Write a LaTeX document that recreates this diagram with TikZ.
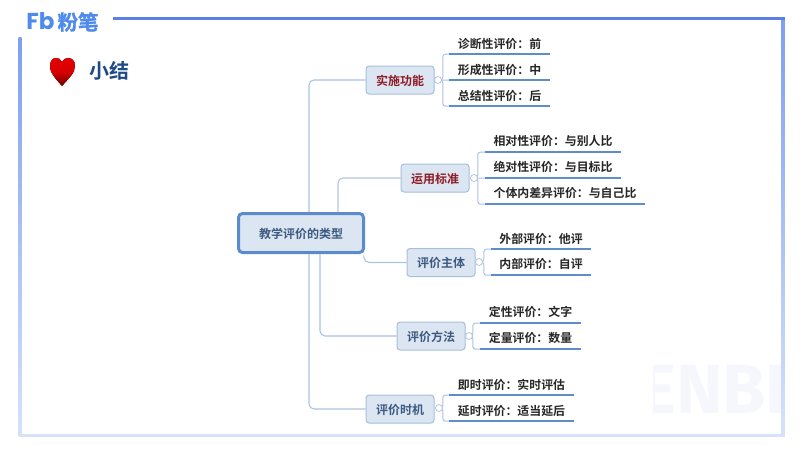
\documentclass[tikz,border=0pt]{standalone}
\usepackage{fontspec}
\setmainfont{Noto Sans CJK SC}[BoldFont={* Bold}]
\setsansfont{Fira Sans}
\newfontfamily\logofont{Poppins}[BoldFont={* Bold}]
\newfontfamily\cjkheavy{Noto Sans CJK SC Bold}[FakeBold=1.5]
\usetikzlibrary{shadings}
\definecolor{brlight}{HTML}{A9C3E0}
\definecolor{brgray}{HTML}{B5C6DA}
\definecolor{boxfill}{HTML}{DCE6F2}
\definecolor{boxline}{HTML}{A5BFDE}
\definecolor{rootline}{HTML}{5B8BCB}
\definecolor{underl}{HTML}{5F8DC8}
\definecolor{darkred}{HTML}{8E1B25}
\definecolor{slate}{HTML}{3D5A80}
\definecolor{navy}{HTML}{1F4A85}
\definecolor{fbblue}{HTML}{4F8BEA}
\definecolor{frametop}{HTML}{5B80E4}
\definecolor{frameupper}{HTML}{7F9FF0}
\definecolor{framelow}{HTML}{D6E2FA}
\definecolor{wmark}{HTML}{F5F7FD}
\tikzset{
  rootbox/.style={draw=rootline,line width=3pt,fill=boxfill,rounded corners=4pt,
    minimum width=125pt,minimum height=39pt,text=slate,text height=11pt,text depth=1pt,
    font=\fontsize{12}{12}\selectfont\bfseries},
  midbox/.style={draw=boxline,line width=1pt,fill=boxfill,rounded corners=3pt,
    minimum width=68pt,minimum height=28pt,inner sep=0pt,text=slate,text height=11pt,text depth=1pt,
    font=\fontsize{12}{12}\selectfont\bfseries},
  redbox/.style={midbox,text=darkred},
  leaf/.style={inner sep=0pt,minimum height=20pt,font=\fontsize{11.9}{12}\selectfont\bfseries,text=black!85},
  highleaf/.style={leaf,minimum height=22pt},
  knob/.style={circle,draw=brgray,fill=white,line width=.8pt,inner sep=0pt,minimum size=7pt},
  trunk/.style={draw=brlight,line width=1.1pt,rounded corners=5pt},
  bracket/.style={draw=brlight,line width=1pt,rounded corners=2.5pt},
  underline/.style={draw=underl,line width=1.6pt}
}
\begin{document}
\begin{tikzpicture}[x=1pt,y=-1pt]
  \useasboundingbox (0,0) rectangle (800,450);
  % watermark
  \begin{scope}
    \clip (653,340) rectangle (781,432);
    \node[inner sep=0pt,anchor=base west,text=wmark] (mark) at (639,413) {\fontsize{70}{70}\selectfont\sffamily\bfseries ENBI};
  \end{scope}
  % frame
  \shade[top color=frameupper,bottom color=framelow] (18.5,37) rectangle (21.5,436.5);
  \shade[top color=frameupper,bottom color=framelow] (781.5,18) rectangle (784.5,436.5);
  \fill[framelow] (18.5,433.5) rectangle (784.5,436.5);
  \fill[frametop] (113,16.7) rectangle (784.5,19.8);
  % logo
  \node[inner sep=0pt,text=fbblue] (fb) at (40.5,21.5) {\fontsize{23}{23}\selectfont\logofont\bfseries Fb};
  \node[inner sep=0pt,text=fbblue] (fen) at (78,22) {\fontsize{20.5}{20.5}\selectfont\cjkheavy 粉笔};
  % heading
  \fill[top color=red!90!black,bottom color=red!45!black,middle color=red!85!black]
    (62,86) .. controls (55,78) and (50,73) .. (50,66)
    .. controls (50,56) and (60,56) .. (62,62)
    .. controls (64,56) and (75,56) .. (75,66)
    .. controls (75,73) and (69,78) .. (62,86) -- cycle;
  \node[inner sep=0pt,text=navy] (title) at (109,71) {\fontsize{20}{20}\selectfont\bfseries 小结};

  \node[rootbox] (root) at (301,233) {教学评价的类型};
  \node[redbox] (func)  at (400,80)  {实施功能};
  \node[redbox] (norm)  at (435,178) {运用标准};
  \node[midbox] (body)  at (441,262.5) {评价主体};
  \node[midbox] (meth)  at (431,336) {评价方法};
  \node[midbox] (time)  at (400,409) {评价时机};

  \node[leaf,minimum width=101pt] (f1) at (499.5,44) {诊断性评价：前};
  \node[leaf,minimum width=101pt] (f2) at (499.5,70) {形成性评价：中};
  \node[leaf,minimum width=101pt] (f3) at (499.5,96) {总结性评价：后};
  \node[highleaf,minimum width=136pt] (n1) at (553,141) {相对性评价：与别人比};
  \node[highleaf,minimum width=136pt] (n2) at (553,167) {绝对性评价：与目标比};
  \node[highleaf,minimum width=160pt] (n3) at (565,193) {个体内差异评价：与自己比};
  \node[leaf,minimum width=100pt] (b1) at (541,239) {外部评价：他评};
  \node[highleaf,minimum width=100pt] (b2) at (541,264) {内部评价：自评};
  \node[highleaf,minimum width=101pt] (m1) at (530.5,312) {定性评价：文字};
  \node[highleaf,minimum width=101pt] (m2) at (530.5,338) {定量评价：数量};
  \node[leaf,minimum width=125pt] (t1) at (511.5,385) {即时评价：实时评估};
  \node[leaf,minimum width=125pt] (t2) at (511.5,411) {延时评价：适当延后};

  % root to the boxes
  \draw[trunk] ([xshift=72pt]root.north west) |- (func.west);
  \draw[trunk,draw=brgray] ([xshift=101pt]root.north west) |- (norm.west);
  \draw[trunk] ([xshift=127pt,yshift=-4pt]root.south west) |- (body.west);
  \draw[trunk] ([xshift=83pt]root.south west) |- (meth.west);
  \draw[trunk] ([xshift=72pt]root.south west) |- (time.west);

  % knobs to the leaves
  \coordinate (jfunc) at (438,80);
  \coordinate (jnorm) at (474,178);
  \coordinate (jbody) at (479,262);
  \coordinate (jmeth) at (469,336);
  \coordinate (jtime) at (439,408);
  \draw[bracket] (f1.south west) -- ++(-6,0) |- (jfunc);
  \draw[bracket] (f2.south west) -- (jfunc);
  \draw[bracket] (f3.south west) -- ++(-6,0) |- (jfunc);
  \draw[bracket] (n1.south west) -- ++(-7,0) |- (jnorm);
  \draw[bracket] (n2.south west) -- (jnorm);
  \draw[bracket] (n3.south west) -- ++(-7,0) |- (jnorm);
  \draw[bracket] (b1.south west) -- ++(-7,0) |- (jbody);
  \draw[bracket] (b2.south west) -- ++(-7,0) |- (jbody);
  \draw[bracket] (m1.south west) -- ++(-7,0) |- (jmeth);
  \draw[bracket] (m2.south west) -- ++(-7,0) |- (jmeth);
  \draw[bracket] (t1.south west) -- ++(-6,0) |- (jtime);
  \draw[bracket] (t2.south west) -- ++(-6,0) |- (jtime);

  % knobs on top of the brackets
  \node[knob] (kfunc) at (jfunc) {};
  \node[knob] (knorm) at (jnorm) {};
  \node[knob] (kbody) at (jbody) {};
  \node[knob] (kmeth) at (jmeth) {};
  \node[knob] (ktime) at (jtime) {};

  % underlines
  \foreach \leafname in {f1,f2,f3,n1,n2,n3,b1,b2,m1,m2,t1,t2}
    \draw[underline] (\leafname.south west) -- (\leafname.south east);
\end{tikzpicture}
\end{document}
